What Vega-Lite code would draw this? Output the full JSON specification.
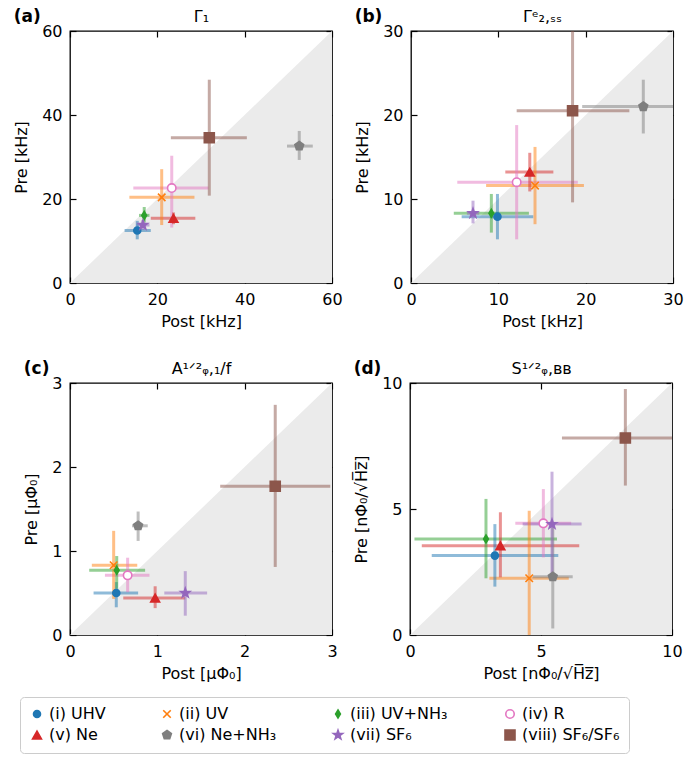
{
  "$schema": "https://vega.github.io/schema/vega-lite/v6.json",
  "padding": {"left": 12, "top": 7, "right": 4, "bottom": 2},
  "datasets": {
    "pts": [
      {"panel": "a", "series": "(i) UHV", "x": 15.4, "xlo": 12.5, "xhi": 18.5, "y": 12.5, "ylo": 10.4, "yhi": 14.8},
      {"panel": "a", "series": "(ii) UV", "x": 21.0, "xlo": 13.6, "xhi": 28.5, "y": 20.4, "ylo": 13.8, "yhi": 27.1},
      {"panel": "a", "series": "(iii) UV+NH₃", "x": 17.0, "xlo": 15.8, "xhi": 18.2, "y": 16.1, "ylo": 14.4, "yhi": 18.1},
      {"panel": "a", "series": "(iv) R", "x": 23.3, "xlo": 14.5, "xhi": 31.7, "y": 22.6, "ylo": 13.2, "yhi": 30.3},
      {"panel": "a", "series": "(v) Ne", "x": 23.7, "xlo": 18.5, "xhi": 28.7, "y": 15.4, "ylo": 14.0, "yhi": 16.8},
      {"panel": "a", "series": "(vi) Ne+NH₃", "x": 52.5, "xlo": 49.7, "xhi": 55.6, "y": 32.6, "ylo": 29.3, "yhi": 36.2},
      {"panel": "a", "series": "(vii) SF₆", "x": 16.7, "xlo": 15.2, "xhi": 18.2, "y": 13.8, "ylo": 12.6, "yhi": 15.0},
      {"panel": "a", "series": "(viii) SF₆/SF₆", "x": 31.9, "xlo": 23.1, "xhi": 40.5, "y": 34.6, "ylo": 20.8, "yhi": 48.4},
      {"panel": "b", "series": "(i) UHV", "x": 9.9, "xlo": 5.8, "xhi": 14.0, "y": 7.9, "ylo": 5.2, "yhi": 10.6},
      {"panel": "b", "series": "(ii) UV", "x": 14.2, "xlo": 8.6, "xhi": 19.8, "y": 11.6, "ylo": 7.0, "yhi": 16.2},
      {"panel": "b", "series": "(iii) UV+NH₃", "x": 9.2, "xlo": 4.9, "xhi": 13.5, "y": 8.3, "ylo": 6.0, "yhi": 10.6},
      {"panel": "b", "series": "(iv) R", "x": 12.1, "xlo": 5.3, "xhi": 19.1, "y": 12.0, "ylo": 5.2, "yhi": 18.8},
      {"panel": "b", "series": "(v) Ne", "x": 13.6, "xlo": 10.8, "xhi": 16.3, "y": 13.2, "ylo": 10.9, "yhi": 15.5},
      {"panel": "b", "series": "(vi) Ne+NH₃", "x": 26.6, "xlo": 19.6, "xhi": 33.6, "y": 21.0, "ylo": 17.8, "yhi": 24.2},
      {"panel": "b", "series": "(vii) SF₆", "x": 7.1, "xlo": 6.4, "xhi": 7.8, "y": 8.3, "ylo": 7.1, "yhi": 9.8},
      {"panel": "b", "series": "(viii) SF₆/SF₆", "x": 18.5, "xlo": 12.1, "xhi": 25.0, "y": 20.5, "ylo": 9.6, "yhi": 31.4},
      {"panel": "c", "series": "(i) UHV", "x": 0.53, "xlo": 0.27, "xhi": 0.78, "y": 0.50, "ylo": 0.33, "yhi": 0.63},
      {"panel": "c", "series": "(ii) UV", "x": 0.50, "xlo": 0.25, "xhi": 0.77, "y": 0.83, "ylo": 0.43, "yhi": 1.24},
      {"panel": "c", "series": "(iii) UV+NH₃", "x": 0.535, "xlo": 0.22, "xhi": 0.86, "y": 0.77, "ylo": 0.55, "yhi": 0.94},
      {"panel": "c", "series": "(iv) R", "x": 0.66, "xlo": 0.40, "xhi": 0.91, "y": 0.71, "ylo": 0.51, "yhi": 0.92},
      {"panel": "c", "series": "(v) Ne", "x": 0.975, "xlo": 0.61, "xhi": 1.32, "y": 0.44, "ylo": 0.32, "yhi": 0.58},
      {"panel": "c", "series": "(vi) Ne+NH₃", "x": 0.78, "xlo": 0.71, "xhi": 0.89, "y": 1.30, "ylo": 1.12, "yhi": 1.47},
      {"panel": "c", "series": "(vii) SF₆", "x": 1.32, "xlo": 1.08, "xhi": 1.57, "y": 0.50, "ylo": 0.23, "yhi": 0.76},
      {"panel": "c", "series": "(viii) SF₆/SF₆", "x": 2.35, "xlo": 1.72, "xhi": 2.98, "y": 1.77, "ylo": 0.81, "yhi": 2.74},
      {"panel": "d", "series": "(i) UHV", "x": 3.24, "xlo": 0.83, "xhi": 5.66, "y": 3.15, "ylo": 1.92, "yhi": 4.40},
      {"panel": "d", "series": "(ii) UV", "x": 4.55, "xlo": 3.03, "xhi": 6.06, "y": 2.25, "ylo": -0.43, "yhi": 4.93},
      {"panel": "d", "series": "(iii) UV+NH₃", "x": 2.90, "xlo": 0.17, "xhi": 5.61, "y": 3.81, "ylo": 2.25, "yhi": 5.40},
      {"panel": "d", "series": "(iv) R", "x": 5.09, "xlo": 4.02, "xhi": 6.15, "y": 4.43, "ylo": 3.08, "yhi": 5.79},
      {"panel": "d", "series": "(v) Ne", "x": 3.45, "xlo": 0.45, "xhi": 6.46, "y": 3.54, "ylo": 2.29, "yhi": 4.87},
      {"panel": "d", "series": "(vi) Ne+NH₃", "x": 5.45, "xlo": 4.68, "xhi": 6.21, "y": 2.31, "ylo": 0.26, "yhi": 4.36},
      {"panel": "d", "series": "(vii) SF₆", "x": 5.42, "xlo": 4.30, "xhi": 6.55, "y": 4.40, "ylo": 2.35, "yhi": 6.48},
      {"panel": "d", "series": "(viii) SF₆/SF₆", "x": 8.22, "xlo": 5.80, "xhi": 10.64, "y": 7.82, "ylo": 5.93, "yhi": 9.76}
    ],
    "diag": [
      {"panel": "a", "v": 0}, {"panel": "a", "v": 60},
      {"panel": "b", "v": 0}, {"panel": "b", "v": 30},
      {"panel": "c", "v": 0}, {"panel": "c", "v": 3},
      {"panel": "d", "v": 0}, {"panel": "d", "v": 10}
    ]
  },
  "vconcat": [
    {
      "spacing": 10,
      "hconcat": [
        {
          "title": {"text": "(a)"},
          "width": 262, "height": 252,
          "layer": [
            {"data": {"name": "diag"}, "transform": [{"filter": "datum.panel == 'a'"}],
             "mark": {"type": "area", "color": "#ebebeb"},
             "encoding": {
               "x": {"field": "v", "type": "quantitative", "scale": {"domain": [0, 60], "nice": false}, "axis": {"title": "Post [kHz]", "values": [0, 20, 40, 60]}},
               "y": {"field": "v", "type": "quantitative", "scale": {"domain": [0, 60], "nice": false}, "axis": {"title": "Pre [kHz]", "values": [0, 20, 40, 60]}}}},
            {"data": {"name": "pts"}, "transform": [{"filter": "datum.panel == 'a'"}],
             "mark": {"type": "rule", "strokeWidth": 3, "opacity": 0.5, "clip": true},
             "encoding": {"x": {"field": "xlo", "type": "quantitative", "axis": null}, "x2": {"field": "xhi"}, "y": {"field": "y", "type": "quantitative", "axis": null},
               "stroke": {"field": "series", "type": "nominal"}}},
            {"data": {"name": "pts"}, "transform": [{"filter": "datum.panel == 'a'"}],
             "mark": {"type": "rule", "strokeWidth": 3, "opacity": 0.5, "clip": true},
             "encoding": {"y": {"field": "ylo", "type": "quantitative", "axis": null}, "y2": {"field": "yhi"}, "x": {"field": "x", "type": "quantitative", "axis": null},
               "stroke": {"field": "series", "type": "nominal"}}},
            {"data": {"name": "pts"}, "transform": [{"filter": "datum.panel == 'a'"}],
             "mark": {"type": "point", "strokeWidth": 1.6, "opacity": 1},
             "encoding": {
               "x": {"field": "x", "type": "quantitative", "axis": {"orient": "top", "title": "Γ₁", "labels": false, "values": [0, 20, 40, 60]}},
               "y": {"field": "y", "type": "quantitative", "axis": {"orient": "right", "title": null, "labels": false, "values": [0, 20, 40, 60]}},
               "stroke": {"field": "series", "type": "nominal", "legend": {"orient": "none", "legendX": -50, "legendY": 666},
                 "scale": {"domain": ["(i) UHV", "(ii) UV", "(iii) UV+NH₃", "(iv) R", "(v) Ne", "(vi) Ne+NH₃", "(vii) SF₆", "(viii) SF₆/SF₆"],
                           "range": ["#1f77b4", "#ff7f0e", "#2ca02c", "#e377c2", "#d62728", "#7f7f7f", "#9467bd", "#8c564b"]}},
               "fill": {"field": "series", "type": "nominal",
                 "scale": {"domain": ["(i) UHV", "(ii) UV", "(iii) UV+NH₃", "(iv) R", "(v) Ne", "(vi) Ne+NH₃", "(vii) SF₆", "(viii) SF₆/SF₆"],
                           "range": ["#1f77b4", "transparent", "#2ca02c", "#ffffff", "#d62728", "#7f7f7f", "#9467bd", "#8c564b"]}},
               "shape": {"field": "series", "type": "nominal",
                 "scale": {"domain": ["(i) UHV", "(ii) UV", "(iii) UV+NH₃", "(iv) R", "(v) Ne", "(vi) Ne+NH₃", "(vii) SF₆", "(viii) SF₆/SF₆"],
                           "range": ["circle", "M-1,-1L1,1M-1,1L1,-1", "M0,-1L0.6,0L0,1L-0.6,0Z", "circle", "triangle-up", "M0,-1L0.951,-0.309L0.588,0.809L-0.588,0.809L-0.951,-0.309Z", "M0,-1L0.235,-0.324L0.951,-0.309L0.38,0.124L0.588,0.809L0,0.4L-0.588,0.809L-0.38,0.124L-0.951,-0.309L-0.235,-0.324Z", "square"]}},
               "size": {"field": "series", "type": "nominal",
                 "scale": {"domain": ["(i) UHV", "(ii) UV", "(iii) UV+NH₃", "(iv) R", "(v) Ne", "(vi) Ne+NH₃", "(vii) SF₆", "(viii) SF₆/SF₆"],
                           "range": [49, 100, 200, 115, 170, 185, 150, 150]}}}}
          ],
          "resolve": {"axis": {"x": "independent", "y": "independent"}}
        },
        {
          "title": {"text": "(b)"},
          "width": 262, "height": 252,
          "layer": [
            {"data": {"name": "diag"}, "transform": [{"filter": "datum.panel == 'b'"}],
             "mark": {"type": "area", "color": "#ebebeb"},
             "encoding": {
               "x": {"field": "v", "type": "quantitative", "scale": {"domain": [0, 30], "nice": false}, "axis": {"title": "Post [kHz]", "values": [0, 10, 20, 30]}},
               "y": {"field": "v", "type": "quantitative", "scale": {"domain": [0, 30], "nice": false}, "axis": {"title": "Pre [kHz]", "values": [0, 10, 20, 30]}}}},
            {"data": {"name": "pts"}, "transform": [{"filter": "datum.panel == 'b'"}],
             "mark": {"type": "rule", "strokeWidth": 3, "opacity": 0.5, "clip": true},
             "encoding": {"x": {"field": "xlo", "type": "quantitative", "axis": null}, "x2": {"field": "xhi"}, "y": {"field": "y", "type": "quantitative", "axis": null},
               "stroke": {"field": "series", "type": "nominal"}}},
            {"data": {"name": "pts"}, "transform": [{"filter": "datum.panel == 'b'"}],
             "mark": {"type": "rule", "strokeWidth": 3, "opacity": 0.5, "clip": true},
             "encoding": {"y": {"field": "ylo", "type": "quantitative", "axis": null}, "y2": {"field": "yhi"}, "x": {"field": "x", "type": "quantitative", "axis": null},
               "stroke": {"field": "series", "type": "nominal"}}},
            {"data": {"name": "pts"}, "transform": [{"filter": "datum.panel == 'b'"}],
             "mark": {"type": "point", "strokeWidth": 1.6, "opacity": 1},
             "encoding": {
               "x": {"field": "x", "type": "quantitative", "axis": {"orient": "top", "title": "Γᵉ₂,ₛₛ", "labels": false, "values": [0, 10, 20, 30]}},
               "y": {"field": "y", "type": "quantitative", "axis": {"orient": "right", "title": null, "labels": false, "values": [0, 10, 20, 30]}},
               "stroke": {"field": "series", "type": "nominal"},
               "fill": {"field": "series", "type": "nominal"},
               "shape": {"field": "series", "type": "nominal"},
               "size": {"field": "series", "type": "nominal"}}}
          ],
          "resolve": {"axis": {"x": "independent", "y": "independent"}}
        }
      ]
    },
    {
      "spacing": 14,
      "hconcat": [
        {
          "title": {"text": "(c)"},
          "width": 262, "height": 252,
          "layer": [
            {"data": {"name": "diag"}, "transform": [{"filter": "datum.panel == 'c'"}],
             "mark": {"type": "area", "color": "#ebebeb"},
             "encoding": {
               "x": {"field": "v", "type": "quantitative", "scale": {"domain": [0, 3], "nice": false}, "axis": {"title": "Post [μΦ₀]", "values": [0, 1, 2, 3]}},
               "y": {"field": "v", "type": "quantitative", "scale": {"domain": [0, 3], "nice": false}, "axis": {"title": "Pre [μΦ₀]", "values": [0, 1, 2, 3]}}}},
            {"data": {"name": "pts"}, "transform": [{"filter": "datum.panel == 'c'"}],
             "mark": {"type": "rule", "strokeWidth": 3, "opacity": 0.5, "clip": true},
             "encoding": {"x": {"field": "xlo", "type": "quantitative", "axis": null}, "x2": {"field": "xhi"}, "y": {"field": "y", "type": "quantitative", "axis": null},
               "stroke": {"field": "series", "type": "nominal"}}},
            {"data": {"name": "pts"}, "transform": [{"filter": "datum.panel == 'c'"}],
             "mark": {"type": "rule", "strokeWidth": 3, "opacity": 0.5, "clip": true},
             "encoding": {"y": {"field": "ylo", "type": "quantitative", "axis": null}, "y2": {"field": "yhi"}, "x": {"field": "x", "type": "quantitative", "axis": null},
               "stroke": {"field": "series", "type": "nominal"}}},
            {"data": {"name": "pts"}, "transform": [{"filter": "datum.panel == 'c'"}],
             "mark": {"type": "point", "strokeWidth": 1.6, "opacity": 1},
             "encoding": {
               "x": {"field": "x", "type": "quantitative", "axis": {"orient": "top", "title": "A¹ᐟ²ᵩ,₁/f", "labels": false, "values": [0, 1, 2, 3]}},
               "y": {"field": "y", "type": "quantitative", "axis": {"orient": "right", "title": null, "labels": false, "values": [0, 1, 2, 3]}},
               "stroke": {"field": "series", "type": "nominal"},
               "fill": {"field": "series", "type": "nominal"},
               "shape": {"field": "series", "type": "nominal"},
               "size": {"field": "series", "type": "nominal"}}}
          ],
          "resolve": {"axis": {"x": "independent", "y": "independent"}}
        },
        {
          "title": {"text": "(d)"},
          "width": 262, "height": 252,
          "layer": [
            {"data": {"name": "diag"}, "transform": [{"filter": "datum.panel == 'd'"}],
             "mark": {"type": "area", "color": "#ebebeb"},
             "encoding": {
               "x": {"field": "v", "type": "quantitative", "scale": {"domain": [0, 10], "nice": false}, "axis": {"title": "Post [nΦ₀/√H̅z̅]", "values": [0, 5, 10]}},
               "y": {"field": "v", "type": "quantitative", "scale": {"domain": [0, 10], "nice": false}, "axis": {"title": "Pre [nΦ₀/√H̅z̅]", "values": [0, 5, 10]}}}},
            {"data": {"name": "pts"}, "transform": [{"filter": "datum.panel == 'd'"}],
             "mark": {"type": "rule", "strokeWidth": 3, "opacity": 0.5, "clip": true},
             "encoding": {"x": {"field": "xlo", "type": "quantitative", "axis": null}, "x2": {"field": "xhi"}, "y": {"field": "y", "type": "quantitative", "axis": null},
               "stroke": {"field": "series", "type": "nominal"}}},
            {"data": {"name": "pts"}, "transform": [{"filter": "datum.panel == 'd'"}],
             "mark": {"type": "rule", "strokeWidth": 3, "opacity": 0.5, "clip": true},
             "encoding": {"y": {"field": "ylo", "type": "quantitative", "axis": null}, "y2": {"field": "yhi"}, "x": {"field": "x", "type": "quantitative", "axis": null},
               "stroke": {"field": "series", "type": "nominal"}}},
            {"data": {"name": "pts"}, "transform": [{"filter": "datum.panel == 'd'"}],
             "mark": {"type": "point", "strokeWidth": 1.6, "opacity": 1},
             "encoding": {
               "x": {"field": "x", "type": "quantitative", "axis": {"orient": "top", "title": "S¹ᐟ²ᵩ,ʙʙ", "labels": false, "values": [0, 5, 10]}},
               "y": {"field": "y", "type": "quantitative", "axis": {"orient": "right", "title": null, "labels": false, "values": [0, 5, 10]}},
               "stroke": {"field": "series", "type": "nominal"},
               "fill": {"field": "series", "type": "nominal"},
               "shape": {"field": "series", "type": "nominal"},
               "size": {"field": "series", "type": "nominal"}}}
          ],
          "resolve": {"axis": {"x": "independent", "y": "independent"}}
        }
      ]
    }
  ],
  "spacing": 29,
  "config": {
    "font": "DejaVu Sans",
    "view": {"stroke": "black", "strokeWidth": 1.3},
    "axis": {"grid": false, "domain": false, "tickColor": "black", "tickSize": -6, "tickWidth": 1.2, "labelPadding": 14, "labelFontSize": 16, "titleFontSize": 16, "titleFontWeight": "normal", "labelColor": "black", "titleColor": "black", "titlePadding": 12, "labelFlush": false},
    "axisTop": {"titlePadding": 6},
    "axisBottom": {"titlePadding": 6},
    "title": {"anchor": "start", "fontSize": 17, "fontWeight": "bold", "color": "black", "offset": 0, "dy": 22},
    "legend": {"direction": "horizontal", "columns": 4, "title": null, "labelFontSize": 16, "labelColor": "black", "strokeColor": "#cccccc", "cornerRadius": 4, "padding": 9, "rowPadding": 4, "columnPadding": 53, "symbolStrokeWidth": 1.6, "symbolOpacity": 1, "symbolSize": 130, "labelOffset": 4}
  }
}
